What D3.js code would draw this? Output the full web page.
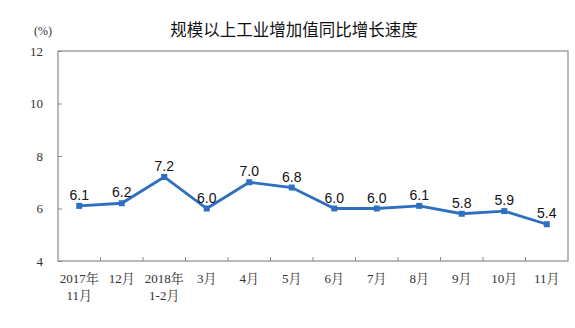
<!DOCTYPE html>
<html><head><meta charset="utf-8">
<script src="https://cdn.jsdelivr.net/npm/d3@7/dist/d3.min.js"></script>
<style>body{margin:0;background:#fff}svg{display:block}</style>
</head><body><svg id="c" width="575" height="328"></svg>
<script>
const categories = [["2017年","11月"],["12月"],["2018年","1-2月"],["3月"],["4月"],["5月"],["6月"],["7月"],["8月"],["9月"],["10月"],["11月"]];
const values = [6.1,6.2,7.2,6.0,7.0,6.8,6.0,6.0,6.1,5.8,5.9,5.4];
const yTicks = [4,6,8,10,12];
const title = "规模以上工业增加值同比增长速度";
const unit = "(%)";

const svg = d3.select("#c");
const m = {l:58, r:7, t:51, b:67};
const W = 575, H = 328;
const iw = W - m.l - m.r, ih = H - m.t - m.b;
const g = svg.append("g").attr("transform",`translate(${m.l},${m.t})`);
const x = d3.scaleBand().domain(d3.range(categories.length)).range([0,iw]);
const y = d3.scaleLinear().domain([4,12]).range([ih,0]);
const serif = "'Liberation Serif','Times New Roman','Noto Serif CJK SC','Noto Sans CJK SC',serif";

// frame
g.append("rect").attr("x",0).attr("y",0).attr("width",iw).attr("height",ih)
 .attr("fill","none").attr("stroke","#8c8c8c").attr("stroke-width",1.2);

// y axis
const ya = g.append("g").call(d3.axisLeft(y).tickValues(yTicks).tickSize(-4).tickPadding(15).tickFormat(d3.format("d")));
ya.select(".domain").remove();
ya.selectAll("line").attr("stroke","#8c8c8c");
ya.selectAll("text").attr("font-family",serif).attr("font-size",13).attr("fill","#333");

// x ticks at band boundaries
const bounds = d3.range(1,categories.length);
g.selectAll(".xt").data(bounds).join("line")
 .attr("x1",d=>x(d)).attr("x2",d=>x(d)).attr("y1",ih).attr("y2",ih-4)
 .attr("stroke","#8c8c8c");

// x labels
const xl = g.selectAll(".xl").data(categories).join("text")
 .attr("text-anchor","middle").attr("font-family",serif).attr("font-size",13).attr("fill","#333")
 .attr("transform",(d,i)=>`translate(${x(i)+x.bandwidth()/2},${ih+22})`);
xl.selectAll("tspan").data(d=>d).join("tspan").attr("x",0).attr("dy",(d,i)=>i===0?0:17).text(d=>d);

// line
const cx = i => x(i)+x.bandwidth()/2;
g.append("path").datum(values)
 .attr("d",d3.line().x((d,i)=>cx(i)).y(d=>y(d)))
 .attr("fill","none").attr("stroke","#2e6fbf").attr("stroke-width",2.8);
g.selectAll(".pt").data(values).join("rect")
 .attr("x",(d,i)=>cx(i)-3).attr("y",d=>y(d)-3).attr("width",6).attr("height",6)
 .attr("fill","#2e6fbf");
g.selectAll(".vl").data(values).join("text")
 .attr("x",(d,i)=>cx(i)).attr("y",d=>y(d)-6)
 .attr("text-anchor","middle").attr("font-family","'Liberation Sans',Arial,sans-serif")
 .attr("font-size",14).attr("fill","#111").text(d=>d.toFixed(1));

// title and unit
svg.append("text").attr("x",294).attr("y",36).attr("text-anchor","middle")
 .attr("font-family","'Noto Sans CJK SC',sans-serif").attr("font-size",16.5).attr("fill","#111").text(title);
svg.append("text").attr("x",34).attr("y",35).attr("font-family",serif).attr("font-size",12).attr("fill","#333").text(unit);
</script></body></html>
